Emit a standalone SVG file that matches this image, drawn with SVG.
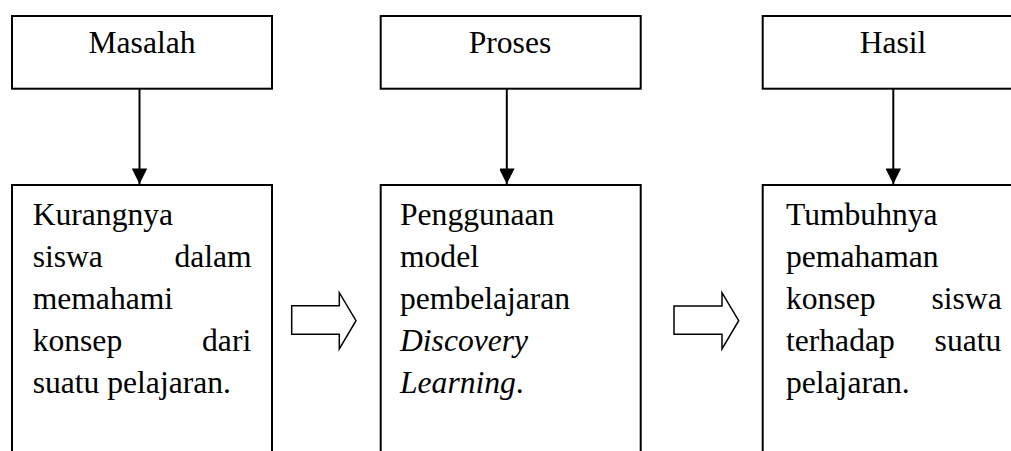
<svg xmlns="http://www.w3.org/2000/svg" width="1011" height="451" viewBox="0 0 1011 451">
  <defs>
    <style>
      .box { fill: #ffffff; stroke: #000000; stroke-width: 2; }
      .t { font-family: "Liberation Serif", "Times New Roman", serif; font-size: 31.6px; fill: #000000; }
      .c { text-anchor: middle; }
      .r { text-anchor: end; }
      .i { font-style: italic; }
      .conn { stroke: #000000; stroke-width: 2; fill: none; }
      .block { fill: #ffffff; stroke: #000000; stroke-width: 1.5; stroke-linejoin: miter; }
    </style>
    <marker id="ah" markerUnits="userSpaceOnUse" markerWidth="16" markerHeight="15" refX="15.6" refY="7.8" orient="auto">
      <path d="M0,0 L15.6,7.8 L0,15.6 Z" fill="#000000"/>
    </marker>
  </defs>
  <rect x="0" y="0" width="1011" height="451" fill="#ffffff"/>

  <g id="masalah">
    <rect class="box" x="12" y="16" width="260" height="72.7"/>
    <text class="t c" x="142" y="53.3">Masalah</text>
  </g>
  <g id="proses">
    <rect class="box" x="380.7" y="16" width="260" height="72.7"/>
    <text class="t c" x="510" y="53.3">Proses</text>
  </g>
  <g id="hasil">
    <rect class="box" x="762.7" y="16" width="260" height="72.7"/>
    <text class="t c" x="893" y="53.3">Hasil</text>
  </g>

  <g id="masalah-detail">
    <rect class="box" x="12" y="185" width="260" height="290"/>
    <text class="t" x="32.7" y="225">Kurangnya</text>
    <text class="t" x="32.7" y="267">siswa</text>
    <text class="t r" x="251.7" y="267">dalam</text>
    <text class="t" x="32.7" y="309">memahami</text>
    <text class="t" x="32.7" y="351">konsep</text>
    <text class="t r" x="251.2" y="351">dari</text>
    <text class="t" x="32.7" y="393">suatu pelajaran.</text>
  </g>
  <g id="proses-detail">
    <rect class="box" x="380.7" y="185" width="260" height="290"/>
    <text class="t" x="400" y="225">Penggunaan</text>
    <text class="t" x="400" y="267">model</text>
    <text class="t" x="400" y="309">pembelajaran</text>
    <text class="t i" x="400" y="351">Discovery</text>
    <text class="t" x="400" y="393"><tspan class="i">Learning</tspan>.</text>
  </g>
  <g id="hasil-detail">
    <rect class="box" x="762.7" y="185" width="260" height="290"/>
    <text class="t" x="786" y="225">Tumbuhnya</text>
    <text class="t" x="786" y="267">pemahaman</text>
    <text class="t" x="786" y="309">konsep</text>
    <text class="t r" x="1001.7" y="309">siswa</text>
    <text class="t" x="786" y="351">terhadap</text>
    <text class="t r" x="1001.3" y="351">suatu</text>
    <text class="t" x="786" y="393">pelajaran.</text>
  </g>

  <g id="connectors">
    <line class="conn" x1="139.5" y1="89" x2="139.5" y2="184" marker-end="url(#ah)"/>
    <line class="conn" x1="506.8" y1="89" x2="506.8" y2="184" marker-end="url(#ah)"/>
    <line class="conn" x1="893.3" y1="89" x2="893.3" y2="184" marker-end="url(#ah)"/>
    <path class="block" d="M291.7,305.7 H339.3 V292.7 L356,320.7 L339.3,349 V334.3 H291.7 Z"/>
    <path class="block" d="M674,306 H722 V292.7 L738.7,320.7 L722,349 V334.3 H674 Z"/>
  </g>
</svg>
